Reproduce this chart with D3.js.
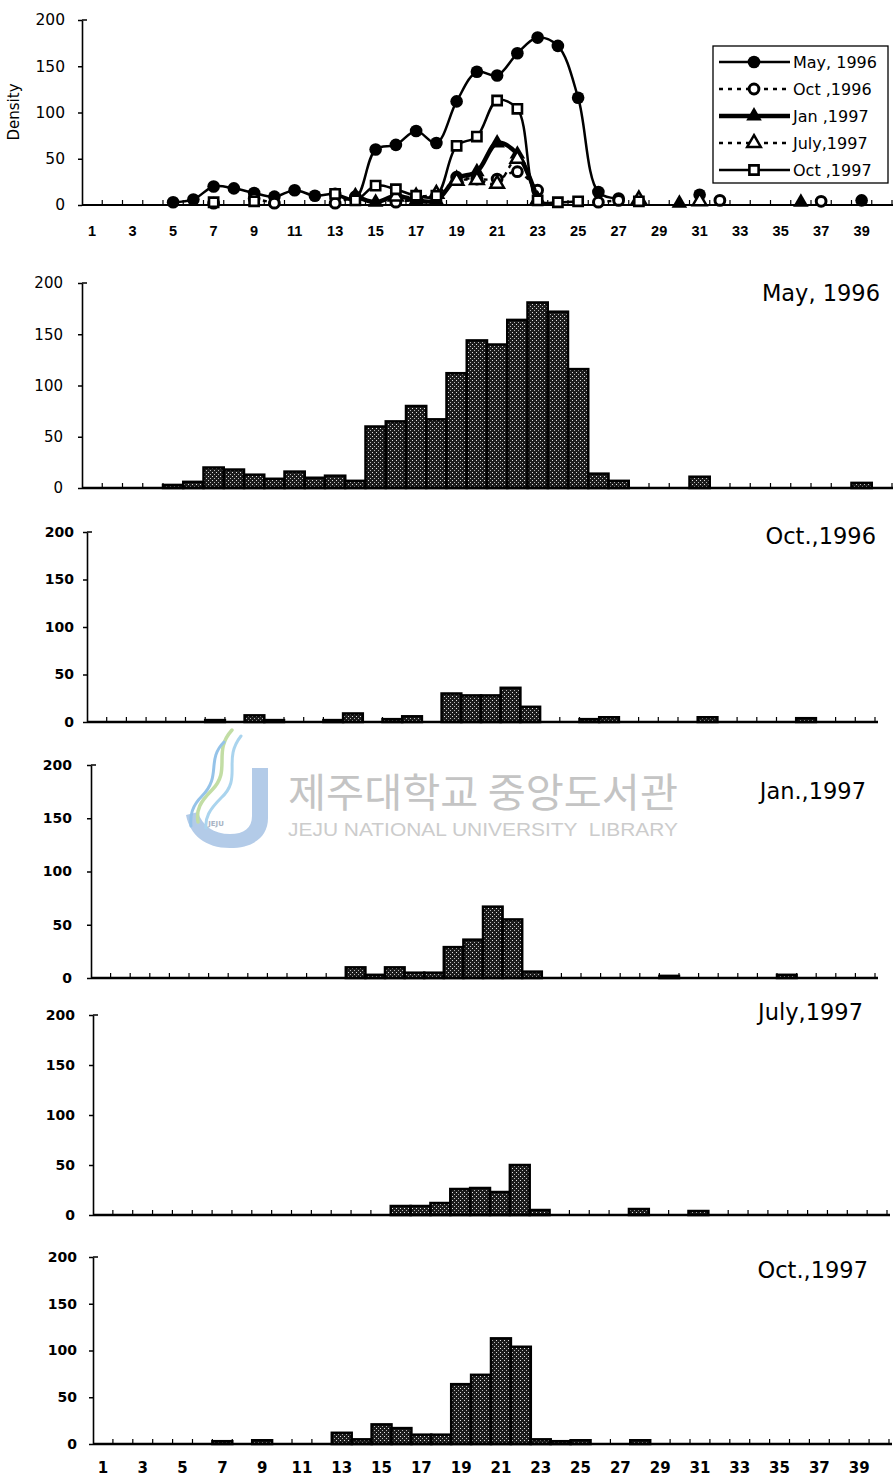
<!DOCTYPE html>
<html>
<head>
<meta charset="utf-8">
<script src="https://cdn.jsdelivr.net/npm/d3@7"></script>
<style>
  body { margin: 0; background: #fff; }
  svg { display: block; background: #fff; }
</style>
</head>
<body>
<svg id="fig" width="893" height="1480"></svg>
<script>
// Size classes on the x axis
const classes = [1,2,3,4,5,6,7,8,9,10,11,12,13,14,15,16,17,18,19,20,
                 21,22,23,24,25,26,27,28,29,30,31,32,33,34,35,36,37,38,39,40];
const classTicks = [1,3,5,7,9,11,13,15,17,19,21,23,25,27,29,31,33,35,37,39];
const densityTicks = [0,50,100,150,200];

// Density per size class (null = no catch in that class)
const may1996 = [
  null,null,null,null,3,6,20,18,13,9,
  16,10,12,7,60,65,80,67,112,144,
  140,164,181,172,116,14,7,null,null,null,
  11,null,null,null,null,null,null,null,5,null];
const oct1996 = [
  null,null,null,null,null,null,2,null,7,2,
  null,null,2,9,null,3,6,null,30,28,
  28,36,16,null,null,3,5,null,null,null,
  null,5,null,null,null,null,4,null,null,null];
const jan1997 = [
  null,null,null,null,null,null,null,null,null,null,
  null,null,null,10,3,10,5,5,29,36,
  67,55,6,null,null,null,null,null,null,2,
  null,null,null,null,null,3,null,null,null,null];
const jul1997 = [
  null,null,null,null,null,null,null,null,null,null,
  null,null,null,null,null,9,9,12,26,27,
  23,50,5,null,null,null,null,6,null,null,
  4,null,null,null,null,null,null,null,null,null];
const oct1997 = [
  null,null,null,null,null,null,3,null,4,null,
  null,null,12,5,21,17,10,10,64,74,
  113,104,5,3,4,null,null,4,null,null,
  null,null,null,null,null,null,null,null,null,null];

const legendNames = ["May, 1996", "Oct ,1996", "Jan ,1997", "July,1997", "Oct ,1997"];
const panelTitles = ["May, 1996", "Oct.,1996", "Jan.,1997", "July,1997", "Oct.,1997"];
const seriesValues = [may1996, oct1996, jan1997, jul1997, oct1997];

const svg = d3.select("#fig");
const FONT = "'DejaVu Sans', 'Liberation Sans', sans-serif";

// stippled fill of the histogram bars
const defs = svg.append("defs");
const pat = defs.append("pattern").attr("id", "stipple")
  .attr("patternUnits", "userSpaceOnUse").attr("width", 4).attr("height", 4);
pat.append("rect").attr("width", 4).attr("height", 4).attr("fill", "#1c1c1c");
pat.append("rect").attr("x", 0).attr("y", 0).attr("width", 1).attr("height", 1).attr("fill", "#e2e2e2");
pat.append("rect").attr("x", 2).attr("y", 2).attr("width", 1).attr("height", 1).attr("fill", "#b8b8b8");

// ---------- library stamp (faint, behind the panels) ----------
const wm = svg.append("g").attr("class", "stamp");
wm.append("path")
  .attr("d", "M252,768 L268,768 L268,818 C268,838 252,848 230,848 C205,848 190,835 186,815 L198,812 C202,826 214,834 230,834 C244,834 252,828 252,816 Z")
  .attr("fill", "#b3cbe8");
[["M232,730 C212,752 232,770 212,790 C200,802 196,810 198,822", "#c2dda4", 3.5],
 ["M241,736 C222,760 243,778 221,798 C209,810 205,818 206,828", "#aad4ee", 3],
 ["M224,742 C206,760 222,776 202,796 C192,806 190,815 191,826", "#95c3e9", 3]]
  .forEach(([d, c, w]) => wm.append("path").attr("d", d).attr("fill", "none")
    .attr("stroke", c).attr("stroke-width", w).attr("stroke-linecap", "round"));
wm.append("text").attr("x", 216).attr("y", 826).attr("text-anchor", "middle")
  .attr("font-family", FONT).attr("font-size", 7).attr("font-weight", "bold")
  .attr("fill", "#a8b4c4").text("JEJU");
wm.append("text").attr("x", 288).attr("y", 807)
  .attr("font-family", "'Noto Sans CJK KR', sans-serif").attr("font-size", 40)
  .attr("textLength", 390).attr("lengthAdjust", "spacingAndGlyphs")
  .attr("fill", "#c4c4c4").text("제주대학교 중앙도서관");
wm.append("text").attr("x", 288).attr("y", 836)
  .attr("font-family", "'Liberation Sans', sans-serif").attr("font-size", 18)
  .attr("textLength", 390).attr("lengthAdjust", "spacingAndGlyphs")
  .attr("fill", "#cccccc").attr("xml:space", "preserve")
  .text("JEJU NATIONAL UNIVERSITY  LIBRARY");

// ---------- shared axis frame ----------
function drawFrame(g, x, y, cfg) {
  const yAxis = g.append("g").attr("transform", `translate(${cfg.left},0)`)
    .call(d3.axisLeft(y).tickValues(densityTicks).tickSize(4).tickSizeOuter(0)
      .tickPadding(cfg.left - 4 - cfg.labelRight));
  yAxis.select(".domain").attr("stroke-width", 1.6);
  yAxis.selectAll(".tick line").attr("stroke-width", 1.5);
  yAxis.selectAll("text").attr("font-family", FONT)
    .attr("font-size", cfg.yFont).attr("font-weight", cfg.bold ? "bold" : "normal")
    .attr("fill", "#000");
  // short cap at the top of the density axis
  g.append("line").attr("x1", cfg.left).attr("x2", cfg.left + 5)
    .attr("y1", y(200)).attr("y2", y(200)).attr("stroke", "#000").attr("stroke-width", 1.5);

  const xEnd = x(classes[classes.length - 1]) + x.bandwidth();
  g.append("line").attr("x1", cfg.left).attr("x2", xEnd + 3)
    .attr("y1", y(0)).attr("y2", y(0)).attr("stroke", "#000").attr("stroke-width", cfg.baseW);
  const bounds = classes.map(c => x(c)).concat([xEnd]);
  g.selectAll("line.ctick").data(bounds.slice(1)).join("line").attr("class", "ctick")
    .attr("x1", d => d).attr("x2", d => d)
    .attr("y1", y(0)).attr("y2", y(0) - 5)
    .attr("stroke", "#000").attr("stroke-width", 1.2);

  if (cfg.xLabels) {
    const xa = g.append("g").attr("transform", `translate(0,${y(0)})`)
      .call(d3.axisBottom(x).tickValues(classTicks).tickSize(0).tickPadding(cfg.xPad));
    xa.select(".domain").remove();
    xa.selectAll("text").attr("font-family", cfg.xFontFamily)
      .attr("font-size", cfg.xFont).attr("font-weight", cfg.xBold ? "bold" : "normal")
      .attr("fill", "#000");
  }
}

// ---------- top panel: all five sampling dates as lines ----------
const topCfg = { left: 82, band: 20.25, y0: 205, yTop: 20, labelRight: 65, yFont: 15.5,
  bold: false, baseW: 2, xLabels: true, xPad: 21, xFont: 14.5, xBold: true,
  xFontFamily: "'Liberation Sans', Arial, sans-serif" };
const topG = svg.append("g");
const xTop = d3.scaleBand().domain(classes)
  .range([topCfg.left, topCfg.left + classes.length * topCfg.band]);
const yTop = d3.scaleLinear().domain([0, 200]).range([topCfg.y0, topCfg.yTop]);
drawFrame(topG, xTop, yTop, topCfg);

topG.append("text")
  .attr("transform", "translate(18.5,112) rotate(-90)")
  .attr("text-anchor", "middle").attr("font-family", FONT).attr("font-size", 15)
  .text("Density");

const seriesStyle = [
  { width: 2.5, dash: null,  symbol: d3.symbolCircle,   size: 125, fill: "#000", sw: 0 },
  { width: 2.4, dash: "4,5", symbol: d3.symbolCircle,   size: 75,  fill: "#fff", sw: 3 },
  { width: 4.5, dash: null,  symbol: d3.symbolTriangle, size: 105, fill: "#000", sw: 0 },
  { width: 2.4, dash: "4,5", symbol: d3.symbolTriangle, size: 80,  fill: "#fff", sw: 2.5 },
  { width: 2.5, dash: null,  symbol: d3.symbolSquare,   size: 85,  fill: "#fff", sw: 2.6 }
];

const lineGen = d3.line()
  .defined(d => d.v != null)
  .x(d => xTop(d.c) + xTop.bandwidth() / 2)
  .y(d => yTop(d.v))
  .curve(d3.curveCatmullRom.alpha(0.5));

seriesValues.forEach((vals, si) => {
  const st = seriesStyle[si];
  const pts = classes.map((c, i) => ({ c, v: vals[i] }));
  topG.append("path").datum(pts).attr("d", lineGen)
    .attr("fill", "none").attr("stroke", "#000").attr("stroke-width", st.width)
    .attr("stroke-dasharray", st.dash).attr("stroke-linejoin", "round");
  topG.selectAll(`path.m${si}`).data(pts.filter(d => d.v != null)).join("path")
    .attr("class", `m${si}`)
    .attr("d", d3.symbol().type(st.symbol).size(st.size))
    .attr("transform", d => `translate(${xTop(d.c) + xTop.bandwidth() / 2},${yTop(d.v)})`)
    .attr("fill", st.fill).attr("stroke", "#000").attr("stroke-width", st.sw);
});

// legend
const leg = topG.append("g");
leg.append("rect").attr("x", 713).attr("y", 46).attr("width", 175).attr("height", 137)
  .attr("fill", "#fff").attr("stroke", "#000").attr("stroke-width", 1.3);
legendNames.forEach((name, i) => {
  const st = seriesStyle[i];
  const cy = 62 + i * 27;
  leg.append("line").attr("x1", 719).attr("x2", 790).attr("y1", cy).attr("y2", cy)
    .attr("stroke", "#000").attr("stroke-width", st.width).attr("stroke-dasharray", st.dash);
  leg.append("path").attr("d", d3.symbol().type(st.symbol).size(st.size))
    .attr("transform", `translate(754,${cy})`)
    .attr("fill", st.fill).attr("stroke", "#000").attr("stroke-width", st.sw);
  leg.append("text").attr("x", 793).attr("y", cy).attr("dy", "0.36em")
    .attr("font-family", FONT).attr("font-size", 16).text(name);
});

// ---------- histogram panels, one per sampling date ----------
const panelCfg = [
  { left: 82, band: 20.25, y0: 488,  yTop: 283,  labelRight: 63, yFont: 15,  bold: false, titleRight: 880, titleBase: 301 },
  { left: 87, band: 19.7,  y0: 722,  yTop: 532,  labelRight: 74, yFont: 14,  bold: true,  titleRight: 876, titleBase: 544 },
  { left: 91, band: 19.6,  y0: 978,  yTop: 765,  labelRight: 72, yFont: 14,  bold: true,  titleRight: 866, titleBase: 799 },
  { left: 93, band: 19.85, y0: 1215, yTop: 1015, labelRight: 75, yFont: 14,  bold: true,  titleRight: 863, titleBase: 1020 },
  { left: 93, band: 19.9,  y0: 1444, yTop: 1257, labelRight: 77, yFont: 14,  bold: true,  titleRight: 868, titleBase: 1278,
    xLabels: true, xPad: 18, xFont: 15, xBold: true, xFontFamily: FONT }
];

panelCfg.forEach((cfg, pi) => {
  cfg.baseW = cfg.baseW || 2.6;
  const g = svg.append("g");
  const x = d3.scaleBand().domain(classes).range([cfg.left, cfg.left + classes.length * cfg.band]);
  const y = d3.scaleLinear().domain([0, 200]).range([cfg.y0, cfg.yTop]);
  const bars = classes.map((c, i) => ({ c, v: seriesValues[pi][i] })).filter(d => d.v != null);
  g.selectAll("rect.bar").data(bars).join("rect").attr("class", "bar")
    .attr("x", d => x(d.c)).attr("width", x.bandwidth())
    .attr("y", d => y(d.v)).attr("height", d => y(0) - y(d.v))
    .attr("fill", "url(#stipple)").attr("stroke", "#000").attr("stroke-width", 2.5);
  drawFrame(g, x, y, cfg);
  g.append("text").attr("x", cfg.titleRight).attr("y", cfg.titleBase)
    .attr("text-anchor", "end").attr("font-family", FONT).attr("font-size", 22.5)
    .text(panelTitles[pi]);
});
</script>
</body>
</html>
